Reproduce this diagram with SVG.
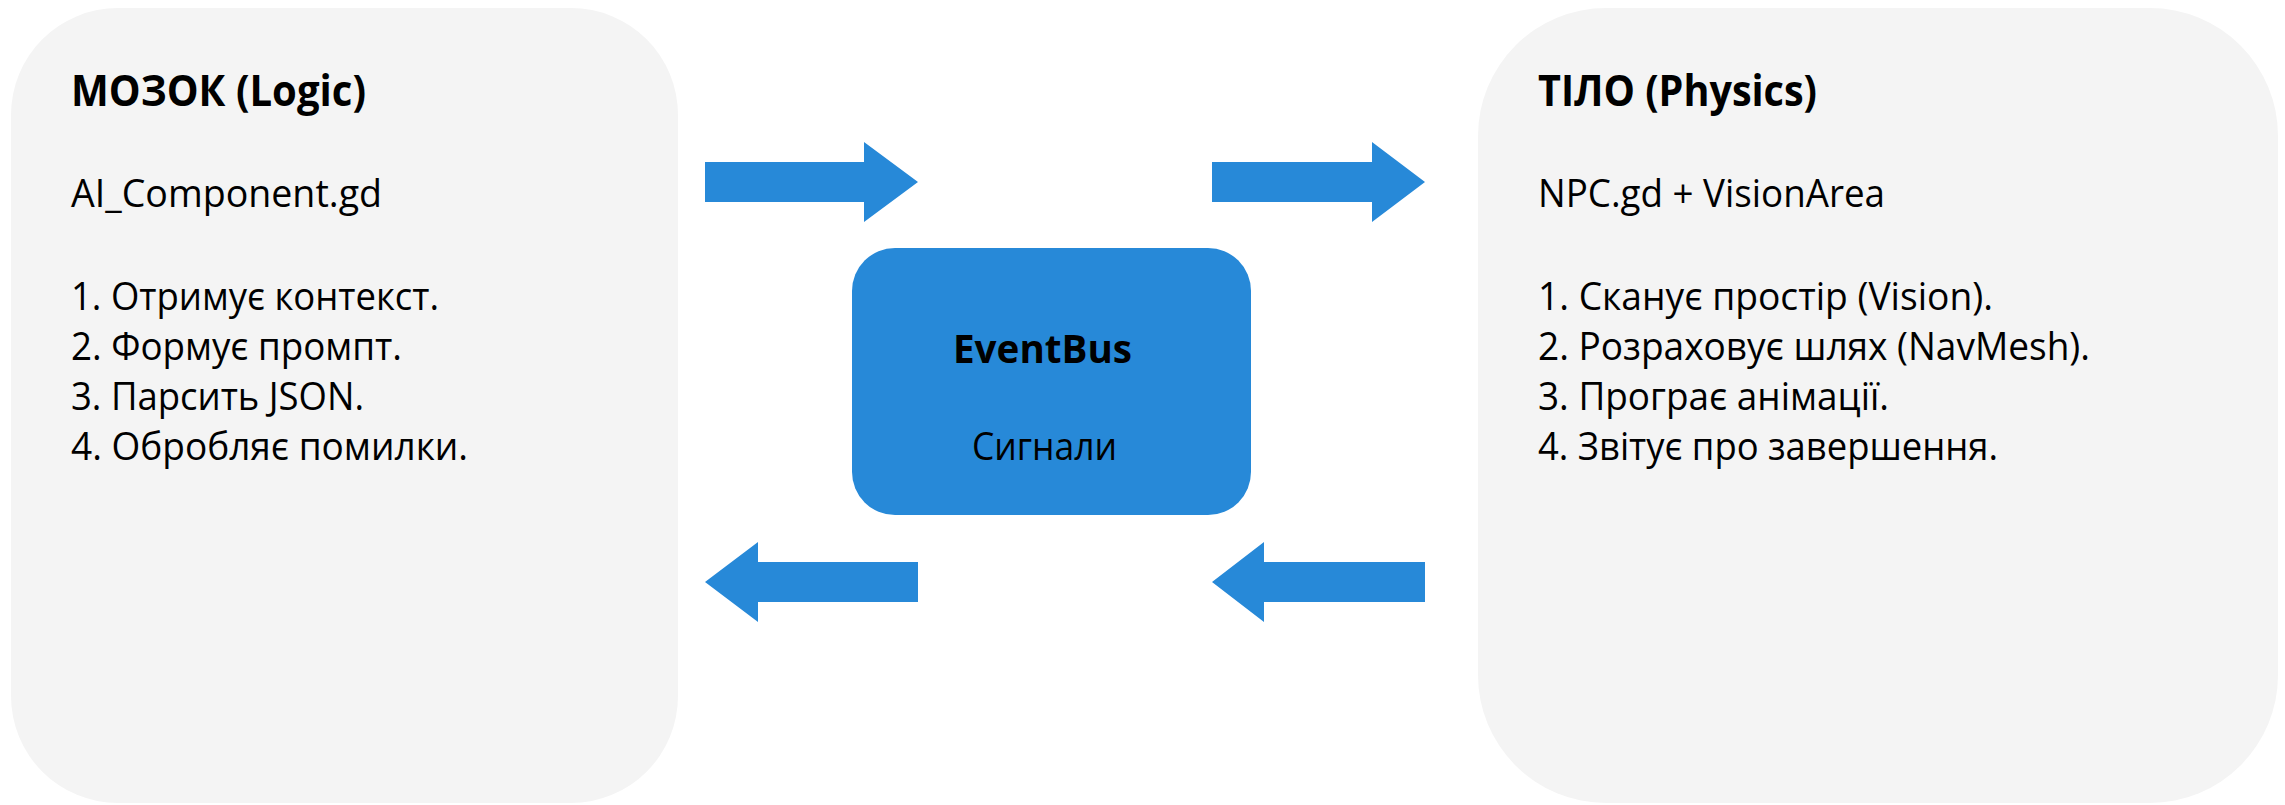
<svg xmlns="http://www.w3.org/2000/svg" width="2285" height="805" viewBox="0 0 2285 805">
<style>
.panel{fill:#F4F4F4}
.bus{fill:#2789D8}
.arrow{fill:#2789D8}
text{font-family:"Open Sans","Noto Sans","Liberation Sans",sans-serif;fill:#000}
.title{font-size:43px;font-weight:bold}
.body{font-size:38px}
.bold{font-size:39px;font-weight:bold}
</style>
<rect width="2285" height="805" fill="#FFFFFF"/>
<g id="brain">
<rect class="panel" x="11" y="8" width="667" height="795" rx="107" ry="107"/>
<text class="title" x="71" y="106" textLength="295" lengthAdjust="spacingAndGlyphs">МОЗОК (Logic)</text>
<text class="body" x="71" y="207" textLength="311" lengthAdjust="spacingAndGlyphs">AI_Component.gd</text>
<text class="body" x="71" y="310" textLength="368" lengthAdjust="spacingAndGlyphs">1. Отримує контекст.</text>
<text class="body" x="71" y="360" textLength="331" lengthAdjust="spacingAndGlyphs">2. Формує промпт.</text>
<text class="body" x="71" y="410" textLength="293" lengthAdjust="spacingAndGlyphs">3. Парсить JSON.</text>
<text class="body" x="71" y="460" textLength="397" lengthAdjust="spacingAndGlyphs">4. Обробляє помилки.</text>
</g>
<g id="body">
<rect class="panel" x="1478" y="8" width="800" height="795" rx="128" ry="128"/>
<text class="title" x="1538" y="106" textLength="279" lengthAdjust="spacingAndGlyphs">ТІЛО (Physics)</text>
<text class="body" x="1538" y="207" textLength="347" lengthAdjust="spacingAndGlyphs">NPC.gd + VisionArea</text>
<text class="body" x="1538" y="310" textLength="455" lengthAdjust="spacingAndGlyphs">1. Сканує простір (Vision).</text>
<text class="body" x="1538" y="360" textLength="552" lengthAdjust="spacingAndGlyphs">2. Розраховує шлях (NavMesh).</text>
<text class="body" x="1538" y="410" textLength="351" lengthAdjust="spacingAndGlyphs">3. Програє анімації.</text>
<text class="body" x="1538" y="460" textLength="460" lengthAdjust="spacingAndGlyphs">4. Звітує про завершення.</text>
</g>
<g id="eventbus">
<rect class="bus" x="852" y="248" width="399" height="267" rx="43" ry="43"/>
<text class="bold" x="953" y="363" textLength="179" lengthAdjust="spacingAndGlyphs">EventBus</text>
<text class="body" x="972" y="460" textLength="145" lengthAdjust="spacingAndGlyphs">Сигнали</text>
</g>
<g id="connectors">
<polygon class="arrow" points="705,162 864,162 864,142 918,182 864,222 864,202 705,202"/>
<polygon class="arrow" points="1212,162 1372,162 1372,142 1425,182 1372,222 1372,202 1212,202"/>
<polygon class="arrow" points="918,562 758,562 758,542 705,582 758,622 758,602 918,602"/>
<polygon class="arrow" points="1425,562 1264,562 1264,542 1212,582 1264,622 1264,602 1425,602"/>
</g>
</svg>
